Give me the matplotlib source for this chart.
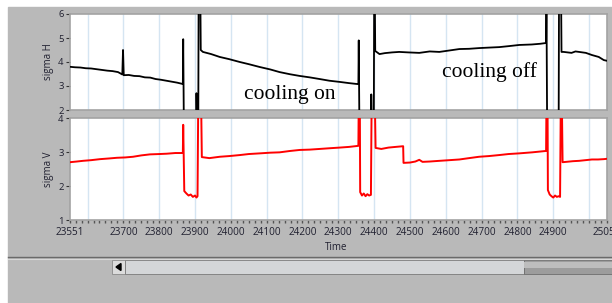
import matplotlib
matplotlib.use("Agg")
import matplotlib.pyplot as plt
from matplotlib.patches import Rectangle, Polygon
from matplotlib.lines import Line2D
from matplotlib.ticker import MultipleLocator

# sigma H (black trace, upper graph)
time_h = [23551, 23565, 23580, 23595, 23610, 23625, 23640, 23655, 23670, 23685, 23697, 23699, 23701,
          23715, 23730, 23745, 23760, 23775, 23790, 23805, 23820, 23835, 23850, 23864,
          23866, 23867, 23869, 23903, 23904, 23906, 23909, 23910, 23915, 23916,
          23922, 23945, 23969, 23995, 24025, 24050, 24081, 24110, 24136, 24165, 24192, 24220, 24248,
          24275, 24304, 24330, 24354,
          24356, 24357, 24359, 24391, 24392, 24394, 24399, 24400, 24402, 24403,
          24415, 24430, 24450, 24470, 24495, 24526, 24555, 24582, 24610, 24638, 24665, 24693,
          24720, 24749, 24775, 24805, 24840, 24864, 24879,
          24880, 24881, 24883, 24915, 24916, 24922, 24923,
          24929, 24940, 24951, 24962, 24972, 24991, 25008, 25027, 25041, 25050]
sigma_h = [3.80, 3.78, 3.77, 3.74, 3.73, 3.70, 3.67, 3.64, 3.62, 3.58, 3.48, 4.50, 3.45,
           3.46, 3.42, 3.41, 3.36, 3.35, 3.29, 3.26, 3.22, 3.18, 3.14, 3.09,
           3.08, 4.95, 1.00, 1.00, 2.70, 1.00, 1.00, 6.50, 6.50, 4.50,
           4.42, 4.33, 4.21, 4.12, 4.00, 3.91, 3.79, 3.69, 3.58, 3.49, 3.42, 3.36, 3.29,
           3.22, 3.17, 3.12, 3.08,
           3.08, 4.90, 1.00, 1.00, 2.65, 1.00, 1.00, 6.50, 6.50, 4.46,
           4.33, 4.37, 4.40, 4.42, 4.40, 4.38, 4.44, 4.42, 4.48, 4.54, 4.55, 4.58,
           4.60, 4.62, 4.66, 4.71, 4.73, 4.76, 4.79,
           4.79, 6.50, 1.00, 1.00, 6.50, 6.50, 4.42,
           4.42, 4.40, 4.38, 4.44, 4.42, 4.38, 4.29, 4.21, 4.08, 4.05]

# sigma V (red trace, lower graph)
time_v = [23551, 23570, 23587, 23610, 23635, 23660, 23682, 23705, 23727, 23750, 23774, 23800, 23821,
          23845, 23865,
          23866, 23867, 23870, 23876, 23882, 23888, 23894, 23900, 23904, 23907, 23909, 23917, 23919,
          23940, 23969, 23995, 24025, 24050, 24081, 24110, 24136, 24165, 24192, 24220, 24248, 24275,
          24304, 24330, 24355,
          24356, 24357, 24360, 24361, 24366, 24371, 24376, 24381, 24386, 24391, 24393, 24402, 24404,
          24420, 24440, 24460, 24481,
          24482, 24500, 24515, 24526, 24535, 24555, 24582, 24610, 24638, 24665, 24693, 24720, 24749,
          24775, 24805, 24841, 24879,
          24880, 24881, 24884, 24885, 24890, 24895, 24900, 24905, 24910, 24915, 24919, 24921, 24924,
          24926, 24936, 24955, 24972, 24990, 25008, 25025, 25041, 25050]
sigma_v = [2.70, 2.72, 2.74, 2.76, 2.79, 2.81, 2.83, 2.84, 2.86, 2.90, 2.93, 2.94, 2.95,
           2.97, 2.97,
           2.97, 3.80, 1.85, 1.78, 1.72, 1.75, 1.68, 1.72, 1.66, 1.70, 4.50, 4.50, 2.85,
           2.82, 2.86, 2.88, 2.91, 2.94, 2.96, 2.98, 2.99, 3.03, 3.06, 3.07, 3.09, 3.11,
           3.13, 3.15, 3.18,
           3.18, 4.50, 4.50, 1.82, 1.72, 1.78, 1.70, 1.76, 1.72, 1.74, 4.50, 4.50, 3.12,
           3.09, 3.13, 3.15, 3.17,
           2.68, 2.69, 2.72, 2.77, 2.71, 2.72, 2.74, 2.76, 2.78, 2.82, 2.86, 2.88, 2.91,
           2.94, 2.96, 2.99, 3.03,
           3.03, 4.50, 4.50, 1.88, 1.75, 1.70, 1.66, 1.72, 1.68, 1.70, 1.68, 4.50, 4.50,
           2.70, 2.71, 2.73, 2.74, 2.76, 2.78, 2.78, 2.79, 2.80]

xticks = [23551, 23700, 23800, 23900, 24000, 24100, 24200, 24300, 24400, 24500, 24600, 24700, 24800, 24900, 25050]
gridx = list(range(23600, 25001, 100))

W, H = 612, 303
def fx(p):
    return p / W
def fy(p):
    return 1 - p / H

plt.rcParams['font.family'] = ['Open Sans', 'DejaVu Sans']
fig = plt.figure(figsize=(6.12, 3.03), dpi=100, facecolor='white')

# LabVIEW panel background
fig.patches.append(Rectangle((fx(8), 0), 1, fy(7), transform=fig.transFigure, color='#b9b9b9', zorder=-10))

ax1 = fig.add_axes([fx(70), fy(110), fx(537), 96 / H])
ax2 = fig.add_axes([fx(70), fy(220), fx(537), 102 / H])

for ax in (ax1, ax2):
    ax.set_xlim(23551, 25050)
    for g in gridx:
        ax.axvline(g, color='#d5e5f2', lw=1, zorder=0)
    for s in ax.spines.values():
        s.set_color('#a3a3a3')
        s.set_linewidth(1.2)
    ax.tick_params(axis='y', direction='out', length=3, width=0.8, color='#333333',
                   labelsize=6.8, labelcolor='#202030', pad=1.5)

ax1.plot(time_h, sigma_h, color='black', lw=1.3, zorder=3)
ax1.set_ylim(2, 6)
ax1.set_yticks([2, 3, 4, 5, 6])
ax1.tick_params(axis='x', bottom=False, labelbottom=False)
ax1.set_ylabel('sigma H', fontsize=7, color='#202030', labelpad=3)
ax1.text(24164, 2.63, 'cooling on', family='Liberation Serif', fontsize=15.5, ha='center', va='center')
ax1.text(24721, 3.58, 'cooling off', family='Liberation Serif', fontsize=15.5, ha='center', va='center')

ax2.plot(time_v, sigma_v, color='#ff0000', lw=1.4, zorder=3)
ax2.set_ylim(1, 4)
ax2.set_yticks([1, 2, 3, 4])
ax2.set_xticks(xticks)
ax2.set_xticklabels([str(t) for t in xticks])
ax2.xaxis.set_minor_locator(MultipleLocator(100 / 6))
ax2.tick_params(axis='x', which='both', direction='out', length=2.5, width=1, color='#555555',
                labelsize=7.2, labelcolor='#202030', pad=2.5)
ax2.set_ylabel('sigma V', fontsize=7, color='#202030', labelpad=3)
fig.text(fx(336), fy(248), 'Time', fontsize=7, color='#202030', ha='center', va='center')

# separator and scrollbar
fig.add_artist(Line2D([fx(8), 1], [fy(257), fy(257)], color='#6a6a6a', lw=1))
fig.add_artist(Line2D([fx(8), 1], [fy(258.5), fy(258.5)], color='#d8d8d8', lw=0.8))
fig.patches.append(Rectangle((fx(112), fy(274)), fx(13), 14 / H, transform=fig.transFigure,
                             facecolor='#dcdcdc', edgecolor='#8a8a8a', lw=0.6))
fig.patches.append(Polygon([[fx(116), fy(267)], [fx(121), fy(263.5)], [fx(121), fy(270.5)]],
                           closed=True, transform=fig.transFigure, color='black'))
fig.patches.append(Rectangle((fx(125), fy(274)), fx(399), 14 / H, transform=fig.transFigure,
                             facecolor='#d4d6d8', edgecolor='#7a7a7a', lw=0.6))
fig.patches.append(Rectangle((fx(524), fy(274)), fx(90), 14 / H, transform=fig.transFigure,
                             facecolor='#9c9c9c', edgecolor='#6e6e6e', lw=0.6))
fig.patches.append(Rectangle((fx(524), fy(268)), fx(90), 6 / H, transform=fig.transFigure,
                             facecolor='#bdbdbd', edgecolor='none'))

fig.savefig('out.png', dpi=100, facecolor=fig.get_facecolor())
